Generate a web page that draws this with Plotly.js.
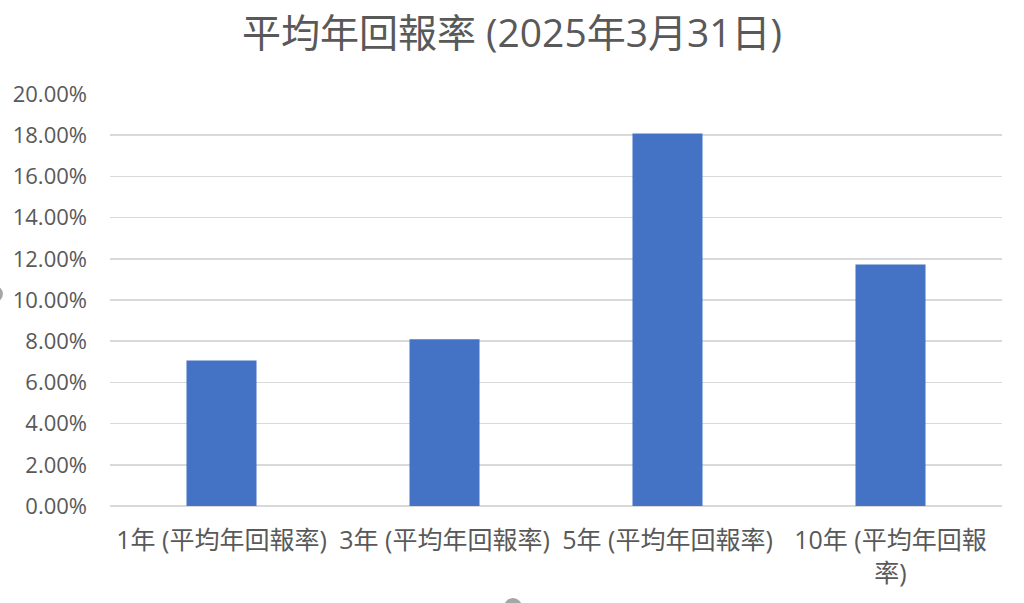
<!DOCTYPE html>
<html>
<head>
<meta charset="utf-8">
<script src="https://cdn.plot.ly/plotly-3.0.1.min.js"></script>
<style>html,body{margin:0;padding:0;background:#fff;}#chart{width:1024px;height:603px;}</style>
</head>
<body>
<div id="chart"></div>
<script>
const categories = ["1年 (平均年回報率)", "3年 (平均年回報率)", "5年 (平均年回報率)", "10年 (平均年回報率)"];
const tickLabels = ["1年 (平均年回報率)", "3年 (平均年回報率)", "5年 (平均年回報率)", "10年 (平均年回報<br>率)"];
const returns = [0.0706, 0.0810, 0.1808, 0.1172];
const yTicks = [0, 0.02, 0.04, 0.06, 0.08, 0.10, 0.12, 0.14, 0.16, 0.18, 0.20];

const FONT = "'Open Sans', 'Noto Sans CJK TC', sans-serif";
const TXT = "#595959";

const trace = {
  type: "bar",
  x: categories,
  y: returns,
  marker: {color: "#4472C4"},
  width: 0.314,
  hoverinfo: "x+y"
};

const layout = {
  width: 1024, height: 603,
  margin: {l: 110, r: 22, t: 94, b: 97},
  paper_bgcolor: "#fff", plot_bgcolor: "#fff",
  showlegend: false,
  title: {text: "平均年回報率 (2025年3月31日)", font: {family: FONT, size: 39, color: TXT}, x: 0.5, xanchor: "center", y: 0.944, yanchor: "middle"},
  xaxis: {
    type: "category",
    tickvals: categories, ticktext: tickLabels,
    tickfont: {family: FONT, size: 25, color: TXT},
    showgrid: false, zeroline: false, showline: false, ticks: "",
    tickangle: 0, automargin: false, ticklabelstandoff: 17
  },
  yaxis: {
    range: [0, 0.2], tickvals: yTicks, tickformat: ".2%",
    tickfont: {family: FONT, size: 22, color: TXT},
    showgrid: true, gridcolor: "#D9D9D9", gridwidth: 1.5,
    zeroline: true, zerolinecolor: "#D9D9D9", zerolinewidth: 1.5,
    showline: false, ticks: "", ticklabelstandoff: 22, automargin: false
  },
  shapes: [
    {type: "circle", xref: "paper", yref: "paper", x0: -0.1379, x1: -0.120, y0: 0.495, y1: 0.534, fillcolor: "#A6A6A6", line: {width: 0}},
    {type: "circle", xref: "paper", yref: "paper", x0: 0.4417, x1: 0.4619, y0: -0.267, y1: -0.2233, fillcolor: "#A6A6A6", line: {width: 0}}
  ]
};

Plotly.newPlot("chart", [trace], layout, {displayModeBar: false, staticPlot: true});
</script>
</body>
</html>
